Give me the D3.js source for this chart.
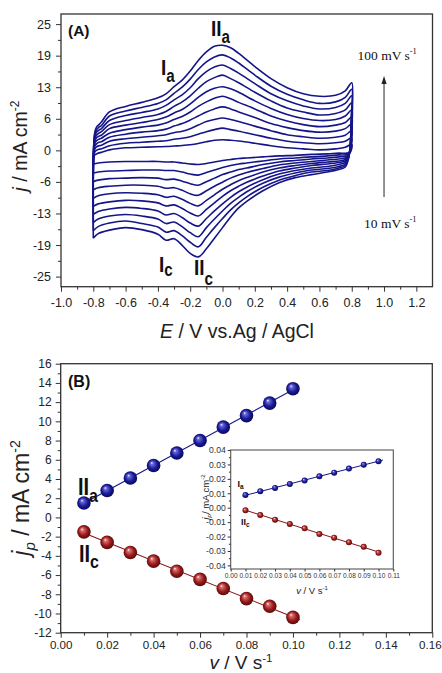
<!DOCTYPE html>
<html><head><meta charset="utf-8">
<script src="https://cdn.jsdelivr.net/npm/d3@7"></script>
<style>
body{margin:0;background:#fff}
svg{display:block}
</style>
</head><body>
<svg id="c" width="442" height="673"></svg>
<script>
// ---------------- DATA ----------------
// Panel A: cyclic voltammograms, 10 scan rates (10..100 mV/s)
const scanRates = [10, 20, 30, 40, 50, 60, 70, 80, 90, 100];
// anodic branch potentials (V) and current densities (mA cm-2), one row per potential, one column per scan rate
const anodicE = [-0.797, -0.79, -0.78, -0.765, -0.75, -0.7, -0.6, -0.5, -0.4, -0.35, -0.3, -0.25, -0.2, -0.15, -0.1, -0.05, 0.0, 0.05, 0.1, 0.2, 0.3, 0.4, 0.5, 0.6, 0.7, 0.76, 0.8];
const anodicJ = [
  [-1.2, -0.9, -0.6, -0.3, 0.0, 0.3, 0.6, 0.9, 1.2, 1.5],
  [-0.9, -0.3, 0.3, 0.9, 1.4, 1.9, 2.4, 2.9, 3.3, 3.7],
  [-0.7, 0.0, 0.7, 1.3, 1.9, 2.5, 3.0, 3.6, 4.1, 4.6],
  [-0.5, 0.2, 0.9, 1.6, 2.2, 2.8, 3.4, 4.0, 4.6, 5.1],
  [-0.4, 0.3, 1.0, 1.7, 2.4, 3.0, 3.7, 4.3, 4.9, 5.6],
  [0.1, 0.9, 1.8, 2.6, 3.4, 4.3, 5.1, 5.9, 6.8, 7.6],
  [0.5, 1.4, 2.3, 3.2, 4.1, 5.0, 5.9, 6.9, 7.8, 8.7],
  [0.6, 1.6, 2.6, 3.6, 4.6, 5.5, 6.5, 7.5, 8.5, 9.5],
  [0.7, 1.8, 2.9, 3.9, 5.0, 6.1, 7.1, 8.2, 9.3, 10.4],
  [0.75, 1.9, 3.1, 4.2, 5.4, 6.6, 7.7, 8.9, 10.0, 11.2],
  [0.85, 2.2, 3.5, 4.8, 6.1, 7.4, 8.7, 10.0, 11.3, 12.6],
  [0.95, 2.4, 3.8, 5.3, 6.7, 8.1, 9.6, 11.0, 12.5, 13.9],
  [1.1, 2.7, 4.3, 6.0, 7.6, 9.2, 10.8, 12.4, 14.1, 15.7],
  [1.35, 3.2, 5.0, 6.8, 8.7, 10.5, 12.3, 14.2, 16.0, 17.8],
  [1.7, 3.7, 5.7, 7.6, 9.6, 11.6, 13.6, 15.6, 17.5, 19.5],
  [2.0, 4.1, 6.1, 8.2, 10.3, 12.3, 14.4, 16.5, 18.5, 20.6],
  [2.1, 4.4, 6.4, 8.6, 10.7, 12.6, 14.9, 16.9, 18.9, 20.8],
  [2.0, 4.1, 6.1, 8.2, 10.2, 12.2, 14.2, 16.2, 18.3, 20.3],
  [1.85, 3.8, 5.7, 7.6, 9.5, 11.5, 13.4, 15.3, 17.3, 19.2],
  [1.4, 3.1, 4.8, 6.5, 8.2, 9.8, 11.5, 13.2, 14.9, 16.6],
  [0.9, 2.4, 3.9, 5.3, 6.8, 8.3, 9.8, 11.2, 12.7, 14.2],
  [0.5, 1.8, 3.1, 4.5, 5.8, 7.1, 8.4, 9.8, 11.1, 12.4],
  [0.3, 1.5, 2.7, 3.9, 5.1, 6.3, 7.6, 8.8, 10.0, 11.2],
  [0.1, 1.3, 2.4, 3.6, 4.7, 5.9, 7.0, 8.2, 9.3, 10.7],
  [0.3, 1.5, 2.6, 3.8, 5.0, 6.1, 7.3, 8.5, 9.6, 10.9],
  [0.6, 1.8, 3.0, 4.3, 5.5, 6.8, 8.0, 9.3, 10.5, 11.8],
  [1.2, 2.5, 3.9, 5.2, 6.6, 8.0, 9.4, 10.8, 12.1, 13.4]
];
// cathodic branch (scan back from +0.8 V to -0.8 V)
const cathodicE = [0.797, 0.79, 0.78, 0.76, 0.72, 0.65, 0.55, 0.45, 0.35, 0.25, 0.15, 0.1, 0.05, 0.0, -0.05, -0.1, -0.15, -0.2, -0.25, -0.3, -0.35, -0.4, -0.5, -0.6, -0.7, -0.77, -0.8];
const cathodicJ = [
  [0.0, 0.8, 1.6, 2.3, 3.0, 3.7, 4.4, 5.1, 5.8, 6.5],
  [-0.4, -0.2, 0.0, 0.1, 0.2, 0.3, 0.4, 0.5, 0.6, 0.7],
  [-0.5, -0.7, -0.9, -1.0, -1.1, -1.2, -1.3, -1.4, -1.5, -1.6],
  [-0.6, -0.9, -1.2, -1.5, -1.8, -2.1, -2.4, -2.7, -3.0, -3.3],
  [-0.55, -0.9, -1.3, -1.7, -2.1, -2.4, -2.8, -3.2, -3.5, -3.8],
  [-0.7, -1.1, -1.5, -1.9, -2.3, -2.7, -3.2, -3.6, -4.0, -4.3],
  [-0.8, -1.3, -1.7, -2.2, -2.6, -3.0, -3.5, -3.9, -4.3, -4.8],
  [-1.0, -1.5, -2.0, -2.5, -3.0, -3.5, -4.0, -4.5, -5.0, -5.4],
  [-1.1, -1.7, -2.3, -2.9, -3.5, -4.1, -4.7, -5.3, -5.9, -6.4],
  [-1.3, -2.1, -2.8, -3.6, -4.3, -5.1, -5.8, -6.5, -7.3, -8.0],
  [-1.5, -2.5, -3.5, -4.4, -5.4, -6.3, -7.3, -8.2, -9.2, -10.1],
  [-1.6, -2.7, -3.8, -4.9, -6.0, -7.1, -8.2, -9.3, -10.4, -11.4],
  [-1.8, -3.0, -4.3, -5.5, -6.8, -8.0, -9.3, -10.5, -11.8, -13.2],
  [-2.0, -3.4, -4.8, -6.3, -7.7, -9.1, -10.6, -12.0, -13.5, -15.3],
  [-2.3, -3.9, -5.5, -7.1, -8.8, -10.4, -12.0, -13.6, -15.3, -17.4],
  [-2.6, -4.4, -6.2, -8.0, -9.9, -11.7, -13.5, -15.3, -17.2, -19.5],
  [-2.8, -4.9, -6.9, -8.9, -11.0, -13.0, -15.0, -17.1, -19.1, -21.1],
  [-2.7, -4.7, -6.6, -8.6, -10.5, -12.4, -14.4, -16.3, -18.2, -20.4],
  [-2.5, -4.3, -6.1, -7.9, -9.7, -11.5, -13.3, -15.1, -16.9, -18.8],
  [-2.3, -4.0, -5.7, -7.4, -9.1, -10.8, -12.5, -14.2, -15.9, -17.5],
  [-2.3, -4.0, -5.8, -7.5, -9.3, -11.0, -12.8, -14.5, -16.2, -17.8],
  [-2.2, -3.9, -5.5, -7.1, -8.8, -10.4, -12.0, -13.6, -15.2, -16.6],
  [-2.2, -3.9, -5.4, -6.9, -8.5, -10.0, -11.5, -13.0, -14.5, -15.7],
  [-2.2, -4.0, -5.5, -6.9, -8.4, -9.9, -11.3, -12.7, -14.0, -15.3],
  [-2.3, -4.1, -5.6, -7.1, -8.6, -10.2, -11.6, -13.0, -14.4, -15.8],
  [-2.5, -4.3, -5.9, -7.4, -9.0, -10.6, -12.1, -13.6, -15.1, -16.5],
  [-2.7, -4.5, -6.2, -7.8, -9.5, -11.1, -12.7, -14.3, -15.9, -17.4]
];
const aXTicks = [-1.0, -0.8, -0.6, -0.4, -0.2, 0.0, 0.2, 0.4, 0.6, 0.8, 1.0, 1.2];
const aXLabels = ["-1.0", "-0.8", "-0.6", "-0.4", "-0.2", "0.0", "0.2", "0.4", "0.6", "0.8", "1.0", "1.2"];
const aYTicks = [-25, -18.75, -12.5, -6.25, 0, 6.25, 12.5, 18.75, 25];
const aYLabels = ["-25", "-19", "-13", "-6", "0", "6", "13", "19", "25"];

// Panel B: peak current vs scan rate
const scanRateV = [0.01, 0.02, 0.03, 0.04, 0.05, 0.06, 0.07, 0.08, 0.09, 0.10];
const jpIIa = [1.5, 2.8, 4.1, 5.4, 6.7, 8.0, 9.4, 10.6, 11.9, 13.4];
const jpIIc = [-1.5, -2.6, -3.65, -4.55, -5.6, -6.45, -7.4, -8.45, -9.25, -10.4];
const fitRangeIIa = [0.01, 0.101];
const fitRangeIIc = [0.01, 0.103];
const bXTicks = [0, 0.02, 0.04, 0.06, 0.08, 0.10, 0.12, 0.14, 0.16];
const bXLabels = ["0.00", "0.02", "0.04", "0.06", "0.08", "0.10", "0.12", "0.14", "0.16"];
const bYTicks = [-12, -10, -8, -6, -4, -2, 0, 2, 4, 6, 8, 10, 12, 14, 16];
const bYLabels = ["-12", "-10", "-8", "-6", "-4", "-2", "0", "2", "4", "6", "8", "10", "12", "14", "16"];

// Inset: peaks Ia and IIc
const jpIaInset = [0.0088, 0.0114, 0.0137, 0.0164, 0.0188, 0.0218, 0.0243, 0.0271, 0.0298, 0.0322];
const jpIIcInset = [-0.0018, -0.0051, -0.0083, -0.0113, -0.0143, -0.0183, -0.0208, -0.0240, -0.0271, -0.0313];
const fitRangeIa = [0.008, 0.103];
const fitRangeIIcInset = [0.01, 0.101];
const iXTicks = [0, 0.01, 0.02, 0.03, 0.04, 0.05, 0.06, 0.07, 0.08, 0.09, 0.10, 0.11];
const iXLabels = ["0.00", "0.01", "0.02", "0.03", "0.04", "0.05", "0.06", "0.07", "0.08", "0.09", "0.10", "0.11"];
const iYTicks = [-0.04, -0.03, -0.02, -0.01, 0, 0.01, 0.02, 0.03, 0.04];
const iYLabels = ["-0.04", "-0.03", "-0.02", "-0.01", "0.00", "0.01", "0.02", "0.03", "0.04"];

// ---------------- DRAWING ----------------
const FONT = '"Liberation Sans", Arial, sans-serif';
const SERIF = '"Liberation Serif", "Times New Roman", serif';
const svg = d3.select("#c");
const NAVY = "#15158a", MAROON = "#8a1414", AXC = "#333";

const defs = svg.append("defs");
function ballGrad(id, c0, c1, c2) {
  const g = defs.append("radialGradient").attr("id", id)
    .attr("cx", 0.5).attr("cy", 0.5).attr("r", 0.55).attr("fx", 0.35).attr("fy", 0.3);
  g.append("stop").attr("offset", "0%").attr("stop-color", "#ffffff");
  g.append("stop").attr("offset", "18%").attr("stop-color", c0);
  g.append("stop").attr("offset", "60%").attr("stop-color", c1);
  g.append("stop").attr("offset", "100%").attr("stop-color", c2);
}
ballGrad("gBlue", "#6a6ad8", "#1a1a9a", "#06064a");
ballGrad("gRed", "#d87070", "#9a1a1a", "#4a0606");

function styleAxis(g, size, color) {
  g.attr("font-family", FONT).attr("font-size", size).attr("color", AXC);
  g.select(".domain").remove();
  g.selectAll("text").attr("fill", color || "#222");
}
function minorTicks(vals) {
  const out = [];
  for (let i = 0; i < vals.length - 1; i++) out.push((vals[i] + vals[i + 1]) / 2);
  return out;
}

// ===== Panel A =====
const xA = d3.scaleLinear().domain([-1.0, 1.3]).range([61, 432.5]);
const yA = d3.scaleLinear().domain([-27, 27]).range([286.7, 14]);

svg.append("g").attr("transform", "translate(0,286.7)")
  .call(d3.axisBottom(xA).tickValues(aXTicks).tickFormat((d, i) => aXLabels[i]).tickSize(5).tickPadding(6).tickSizeOuter(0))
  .call(g => styleAxis(g, 12.5));
svg.append("g").attr("transform", "translate(0,286.7)")
  .call(d3.axisBottom(xA).tickValues(minorTicks(aXTicks)).tickFormat("").tickSize(3).tickSizeOuter(0))
  .call(g => styleAxis(g, 12.5));
svg.append("g").attr("transform", "translate(61,0)")
  .call(d3.axisLeft(yA).tickValues(aYTicks).tickFormat((d, i) => aYLabels[i]).tickSize(5).tickPadding(5).tickSizeOuter(0))
  .call(g => styleAxis(g, 12.5));
svg.append("g").attr("transform", "translate(61,0)")
  .call(d3.axisLeft(yA).tickValues(minorTicks(aYTicks)).tickFormat("").tickSize(3).tickSizeOuter(0))
  .call(g => styleAxis(g, 12.5));

const cvLine = d3.line().x(d => xA(d[0])).y(d => yA(d[1])).curve(d3.curveCatmullRom.alpha(0.5));
const gCV = svg.append("g");
scanRates.forEach((r, c) => {
  const pts = [[-0.8, cathodicJ[cathodicJ.length - 1][c]]];
  anodicE.forEach((e, i) => pts.push([e, anodicJ[i][c]]));
  cathodicE.forEach((e, i) => pts.push([e, cathodicJ[i][c]]));
  gCV.append("path").attr("d", cvLine(pts)).attr("fill", "none")
    .attr("stroke", NAVY).attr("stroke-width", 1.6).attr("stroke-linejoin", "round");
});

svg.append("rect").attr("x", 61).attr("y", 14).attr("width", 432.5 - 61).attr("height", 286.7 - 14)
  .attr("fill", "none").attr("stroke", AXC).attr("stroke-width", 1.3);

// panel A texts
svg.append("text").attr("x", 68).attr("y", 36).attr("font-family", FONT).attr("font-weight", "bold")
  .attr("font-size", 15.5).attr("fill", "#111").text("(A)");

function peakLabel(x, y, main, sub, size, subDy, sy) {
  const t = svg.append("text").attr("transform", `translate(${x},${y}) scale(1,${sy})`)
    .attr("font-family", FONT).attr("font-weight", "bold").attr("font-size", size).attr("fill", "#111");
  t.append("tspan").text(main);
  t.append("tspan").attr("dy", subDy).attr("font-size", size * 0.8).text(sub);
}
peakLabel(161, 75, "I", "a", 19, 6, 1.2);
peakLabel(211, 36, "II", "a", 19, 6, 1.2);
peakLabel(159, 272, "I", "c", 19, 3, 1.2);
peakLabel(194, 275, "II", "c", 19, 8, 1.2);

// arrow
svg.append("line").attr("x1", xA(1.0)).attr("x2", xA(1.0)).attr("y1", 197).attr("y2", 82)
  .attr("stroke", "#777").attr("stroke-width", 1.6);
svg.append("path").attr("d", `M${xA(1.0)},76 l-2.6,8 l5.2,0 z`).attr("fill", "#222");
function rateLabel(x, y, num) {
  const t = svg.append("text").attr("x", x).attr("y", y).attr("font-family", SERIF)
    .attr("font-size", 13.5).attr("fill", "#111");
  t.append("tspan").text(num + " mV s");
  t.append("tspan").attr("dy", -6).attr("font-size", 8.5).text("-1");
}
rateLabel(357.5, 60, "100");
rateLabel(364, 228, "10");

// A axis titles
{
  const t = svg.append("text").attr("x", 237).attr("y", 338).attr("text-anchor", "middle")
    .attr("font-family", FONT).attr("font-size", 19.5).attr("fill", "#222");
  t.append("tspan").attr("font-style", "italic").text("E");
  t.append("tspan").text(" / V vs.Ag / AgCl");
}
{
  const t = svg.append("text").attr("transform", "translate(27,146) rotate(-90)").attr("text-anchor", "middle")
    .attr("font-family", FONT).attr("font-size", 19.5).attr("fill", "#222");
  t.append("tspan").attr("font-style", "italic").text("j");
  t.append("tspan").text(" / mA cm");
  t.append("tspan").attr("dy", -8).attr("font-size", 12).text("-2");
}

// ===== Panel B =====
const xB = d3.scaleLinear().domain([0, 0.16]).range([60.7, 432.3]);
const yB = d3.scaleLinear().domain([-12, 16]).range([632.7, 363.7]);

svg.append("g").attr("transform", "translate(0,632.7)")
  .call(d3.axisBottom(xB).tickValues(bXTicks).tickFormat((d, i) => bXLabels[i]).tickSize(5).tickPadding(3).tickSizeOuter(0))
  .call(g => styleAxis(g, 11.6))
  .call(g => g.selectAll(".tick text").filter((d, i, n) => i === n.length - 1).attr("dx", -2.5));
svg.append("g").attr("transform", "translate(0,632.7)")
  .call(d3.axisBottom(xB).tickValues(minorTicks(bXTicks)).tickFormat("").tickSize(3).tickSizeOuter(0))
  .call(g => styleAxis(g, 12));
svg.append("g").attr("transform", "translate(60.7,0)")
  .call(d3.axisLeft(yB).tickValues(bYTicks).tickFormat((d, i) => bYLabels[i]).tickSize(5).tickPadding(4).tickSizeOuter(0))
  .call(g => styleAxis(g, 12));
svg.append("g").attr("transform", "translate(60.7,0)")
  .call(d3.axisLeft(yB).tickValues(minorTicks(bYTicks)).tickFormat("").tickSize(3).tickSizeOuter(0))
  .call(g => styleAxis(g, 12));

svg.append("rect").attr("x", 60.7).attr("y", 363.7).attr("width", 432.3 - 60.7).attr("height", 632.7 - 363.7)
  .attr("fill", "none").attr("stroke", AXC).attr("stroke-width", 1.3);

function linFit(xs, ys) {
  const mx = d3.mean(xs), my = d3.mean(ys);
  let sxy = 0, sxx = 0;
  xs.forEach((x, i) => { sxy += (x - mx) * (ys[i] - my); sxx += (x - mx) * (x - mx); });
  const b = sxy / sxx;
  return x => my + b * (x - mx);
}
function series(g, xs, ys, range, xS, yS, color, grad, r, lw) {
  const f = linFit(xs, ys);
  g.append("line").attr("x1", xS(range[0])).attr("y1", yS(f(range[0])))
    .attr("x2", xS(range[1])).attr("y2", yS(f(range[1])))
    .attr("stroke", color).attr("stroke-width", lw);
  g.selectAll(null).data(xs).enter().append("circle")
    .attr("cx", d => xS(d)).attr("cy", (d, i) => yS(ys[i])).attr("r", r)
    .attr("fill", `url(#${grad})`);
}
const gB = svg.append("g");
series(gB, scanRateV, jpIIa, fitRangeIIa, xB, yB, NAVY, "gBlue", 6.8, 1.1);
series(gB, scanRateV, jpIIc, fitRangeIIc, xB, yB, MAROON, "gRed", 6.8, 1.1);

svg.append("text").attr("x", 68).attr("y", 387).attr("font-family", FONT).attr("font-weight", "bold")
  .attr("font-size", 16).attr("fill", "#111").text("(B)");
peakLabel(78, 495, "II", "a", 20, 6, 1.2);
peakLabel(79, 562, "II", "c", 20, 5, 1.2);

{
  const t = svg.append("text").attr("x", 241).attr("y", 669).attr("text-anchor", "middle")
    .attr("font-family", FONT).attr("font-size", 19).attr("fill", "#222");
  t.append("tspan").attr("font-style", "italic").text("v");
  t.append("tspan").text(" / V s");
  t.append("tspan").attr("dy", -7.5).attr("font-size", 11.5).text("-1");
}
{
  const t = svg.append("text").attr("transform", "translate(29,498) rotate(-90)").attr("text-anchor", "middle")
    .attr("font-family", FONT).attr("font-size", 23).attr("fill", "#222");
  t.append("tspan").attr("font-style", "italic").text("j");
  t.append("tspan").attr("font-style", "italic").attr("dy", 6).attr("font-size", 15).text("p");
  t.append("tspan").attr("dy", -6).text(" / mA cm");
  t.append("tspan").attr("dy", -9).attr("font-size", 14).text("-2");
}

// ===== Inset =====
const xI = d3.scaleLinear().domain([0, 0.11]).range([230.7, 393.3]);
const yI = d3.scaleLinear().domain([-0.0425, 0.04]).range([569, 450]);
svg.append("rect").attr("x", 230.7).attr("y", 450).attr("width", 393.3 - 230.7).attr("height", 569 - 450)
  .attr("fill", "#fff").attr("stroke", "#555").attr("stroke-width", 1.1);
svg.append("g").attr("transform", "translate(0,569)")
  .call(d3.axisBottom(xI).tickValues(iXTicks).tickFormat((d, i) => iXLabels[i]).tickSize(2.5).tickPadding(1.5).tickSizeOuter(0))
  .call(g => styleAxis(g, 6.6, "#333"));
svg.append("g").attr("transform", "translate(230.7,0)")
  .call(d3.axisLeft(yI).tickValues(iYTicks).tickFormat((d, i) => iYLabels[i]).tickSize(3).tickPadding(2).tickSizeOuter(0))
  .call(g => styleAxis(g, 8.6, "#333"));
svg.append("g").attr("transform", "translate(230.7,0)")
  .call(d3.axisLeft(yI).tickValues(minorTicks(iYTicks)).tickFormat("").tickSize(1.8).tickSizeOuter(0))
  .call(g => styleAxis(g, 8.6));
const gI = svg.append("g");
series(gI, scanRateV, jpIaInset, fitRangeIa, xI, yI, NAVY, "gBlue", 3, 1);
series(gI, scanRateV, jpIIcInset, fitRangeIIcInset, xI, yI, MAROON, "gRed", 3, 1);

function smallLabel(x, y, main, sub) {
  const t = svg.append("text").attr("x", x).attr("y", y).attr("font-family", FONT)
    .attr("font-weight", "bold").attr("font-size", 9).attr("fill", "#111");
  t.append("tspan").text(main);
  t.append("tspan").attr("dy", 2).attr("font-size", 6.5).text(sub);
}
smallLabel(237.5, 486.5, "I", "a");
smallLabel(241, 525, "II", "c");

{
  const t = svg.append("text").attr("x", 312).attr("y", 593.5).attr("text-anchor", "middle")
    .attr("font-family", FONT).attr("font-size", 9.5).attr("fill", "#222");
  t.append("tspan").attr("font-style", "italic").text("v");
  t.append("tspan").text(" / V s");
  t.append("tspan").attr("dy", -4).attr("font-size", 6).text("-1");
}
{
  const t = svg.append("text").attr("transform", "translate(209,497) rotate(-90)").attr("text-anchor", "middle")
    .attr("font-family", FONT).attr("font-size", 9.5).attr("fill", "#222");
  t.append("tspan").attr("font-style", "italic").text("j");
  t.append("tspan").attr("font-style", "italic").attr("dy", 2).attr("font-size", 6).text("p");
  t.append("tspan").attr("dy", -2).text("/ mA cm");
  t.append("tspan").attr("dy", -4).attr("font-size", 6).text("-2");
}
</script>
</body></html>
